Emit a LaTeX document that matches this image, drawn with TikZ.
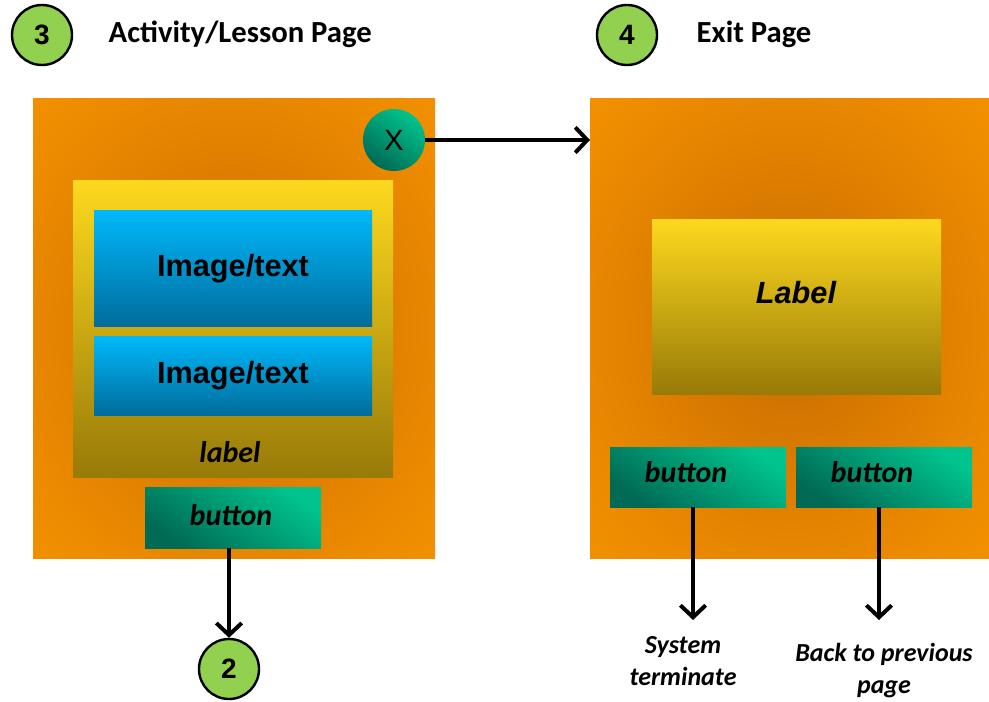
\documentclass[tikz,border=0pt]{standalone}
\usepackage{fontspec}
\setmainfont{Carlito}
\newfontfamily\arialf{Liberation Sans}
\usetikzlibrary{arrows.meta,fit,shadings}
\definecolor{grn}{HTML}{92D050}
\definecolor{orL}{HTML}{FA9E00}
\definecolor{orM}{HTML}{EE8C00}
\definecolor{orD}{HTML}{C86C00}
\definecolor{yeT}{HTML}{FDD81E}
\definecolor{yeB}{HTML}{987A08}
\definecolor{blT}{HTML}{00B8FA}
\definecolor{blB}{HTML}{006C9C}
\definecolor{tlL}{HTML}{00C48E}
\definecolor{tlD}{HTML}{006A54}
\pgfdeclareradialshading{pgrad}{\pgfpoint{0bp}{0bp}}{color(0bp)=(orD); color(30bp)=(orM); color(55bp)=(orL); color(75bp)=(orL)}
\tikzset{
  box/.style={inner sep=0pt, outer sep=0pt},
  page/.style={box, shading=pgrad},
  yel/.style={box, top color=yeT, bottom color=yeB},
  blu/.style={box, top color=blT, bottom color=blB},
  btn/.style={box, top color=tlL, bottom color=tlD, shading angle=-35},
  numc/.style={circle, draw=black, line width=1.8pt, fill=grn, minimum size=45pt, inner sep=0pt,
    font=\arialf\bfseries\fontsize{21}{24}\selectfont},
  head/.style={anchor=west, font=\bfseries\fontsize{23}{27}\selectfont},
  imgtxt/.style={font=\arialf\bfseries\fontsize{23}{27}\selectfont},
  btxt/.style={font=\bfseries\itshape\fontsize{22.5}{27}\selectfont},
  note/.style={align=center, font=\bfseries\itshape\fontsize{19.5}{24}\selectfont},
  arr/.style={line width=3pt, -{Straight Barb[length=9pt,width=19pt,line width=3pt]}},
}
\begin{document}
\begin{tikzpicture}[x=0.75pt,y=0.75pt]
\useasboundingbox (0,0) rectangle (989,-702);
% headers
\node[numc] (n3) at (42,-35) {3};
\node[head] (h3) at (104,-34) {Activity/Lesson Page};
\node[numc] (n4) at (627,-35) {4};
\node[head] (h4) at (692,-34) {Exit Page};
% left page
\node[page, fit={(33,-99) (435,-558)}] (pg3) {};
\node[yel, fit={(73,-181) (393,-477)}] (yb) {};
\node[blu, fit={(94,-211) (372,-327)}] (im1) {};
\node[imgtxt] at (im1.center) {Image/text};
\node[blu, fit={(94,-337) (372,-415)}] (im2) {};
\node[imgtxt] at (im2.center) {Image/text};
\node[btxt] (lbl) at (230,-452) {label};
\node[btn, fit={(145,-487) (321,-548)}] (b3) {};
\node[btxt] at (231,-515) {button};
\node[circle, btn, minimum size=46.5pt, font=\arialf\fontsize{22}{24}\selectfont] (xc) at (394,-140) {X};
\node[numc] (n2) at (229,-669) {2};
% right page
\node[page, fit={(590,-99) (989,-558)}] (pg4) {};
\node[yel, fit={(652,-220) (941,-394)}] (lb4) {};
\node[font=\arialf\bfseries\itshape\fontsize{23}{27}\selectfont] at (796,-293) {Label};
\node[btn, fit={(610,-447) (786,-507)}] (bA) {};
\node[btxt] at (686,-472) {button};
\node[btn, fit={(796,-447) (972,-507)}] (bB) {};
\node[btxt] at (872,-472) {button};
\node[note] (tA) at (683,-661) {System\\terminate};
\node[note] (tB) at (884,-671) {Back to previous\\page};
\coordinate (eA) at (693,-620);
\coordinate (eB) at (879,-620);
% connectors
\draw[arr] (xc.east) -- (xc.east -| pg4.west);
\draw[arr] (n2 |- b3.south) -- (n2.north);
\draw[arr] (eA |- bA.south) -- (eA);
\draw[arr] (eB |- bB.south) -- (eB);
\end{tikzpicture}
\end{document}
